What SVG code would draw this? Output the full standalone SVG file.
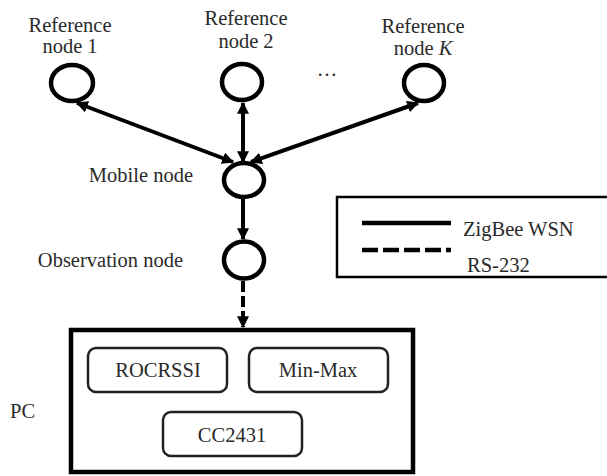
<svg xmlns="http://www.w3.org/2000/svg" width="607" height="476" viewBox="0 0 607 476">
<defs>
<marker id="ah" viewBox="0 0 10 10" refX="9" refY="5" markerWidth="3" markerHeight="3" orient="auto-start-reverse" markerUnits="strokeWidth">
<path d="M0,0 L10,5 L0,10 Z" fill="#000"/>
</marker>
<style>
text{font-family:"Liberation Serif","Times New Roman",serif;font-size:20.5px;fill:#2a2a2a}
.n{fill:#fff;stroke:#000;stroke-width:4.5}
.c{stroke:#000;stroke-width:4;fill:none}
.r{fill:#fff;stroke:#222;stroke-width:2.5}
</style>
</defs>
<rect width="607" height="476" fill="#fff"/>
<g id="ref1"><ellipse class="n" cx="72" cy="83" rx="21" ry="18"/><text x="70" y="32" text-anchor="middle">Reference</text><text x="70" y="53" text-anchor="middle">node 1</text></g>
<g id="ref2"><ellipse class="n" cx="242" cy="82" rx="20" ry="18"/><text x="246" y="25" text-anchor="middle">Reference</text><text x="246" y="48" text-anchor="middle">node 2</text></g>
<g id="refK"><ellipse class="n" cx="424" cy="83" rx="20" ry="18"/><text x="423" y="33" text-anchor="middle">Reference</text><text x="423" y="55" text-anchor="middle">node <tspan font-style="italic">K</tspan></text></g>
<text x="327" y="76" text-anchor="middle">…</text>
<g id="mobile"><ellipse class="n" cx="244" cy="180" rx="20" ry="17"/><text x="193" y="182" text-anchor="end">Mobile node</text></g>
<g id="obs"><ellipse class="n" cx="244" cy="260" rx="20" ry="18.5"/><text x="183" y="267" text-anchor="end">Observation node</text></g>
<g id="legend"><rect x="337" y="197" width="272" height="80" fill="#fff" stroke="#000" stroke-width="2.5"/>
<line x1="362" y1="223" x2="451" y2="223" stroke="#000" stroke-width="4.5"/>
<line x1="362" y1="250" x2="451" y2="250" stroke="#000" stroke-width="4.5" stroke-dasharray="16,5"/>
<text x="463" y="236">ZigBee WSN</text><text x="467" y="272">RS-232</text></g>
<g id="pc"><rect x="71" y="330" width="342" height="142" fill="#fff" stroke="#000" stroke-width="4.5"/><text x="10" y="418">PC</text></g>
<g id="rocrssi"><rect class="r" x="88" y="348" width="139" height="44" rx="8"/><text x="158" y="377" text-anchor="middle">ROCRSSI</text></g>
<g id="minmax"><rect class="r" x="249" y="348" width="139" height="44" rx="8"/><text x="318" y="377" text-anchor="middle">Min-Max</text></g>
<g id="cc2431"><rect class="r" x="163" y="412" width="139" height="44" rx="8"/><text x="232" y="442" text-anchor="middle">CC2431</text></g>
<g id="connectors">
<line class="c" x1="77" y1="103" x2="233" y2="162" marker-start="url(#ah)" marker-end="url(#ah)"/>
<line class="c" x1="243" y1="103" x2="243" y2="162" marker-start="url(#ah)" marker-end="url(#ah)"/>
<line class="c" x1="418" y1="103" x2="251" y2="162" marker-start="url(#ah)" marker-end="url(#ah)"/>
<line class="c" x1="243" y1="197" x2="243" y2="239" marker-end="url(#ah)"/>
<line class="c" x1="243" y1="281" x2="243" y2="327" stroke-dasharray="11,4" marker-end="url(#ah)"/>
</g>
</svg>
